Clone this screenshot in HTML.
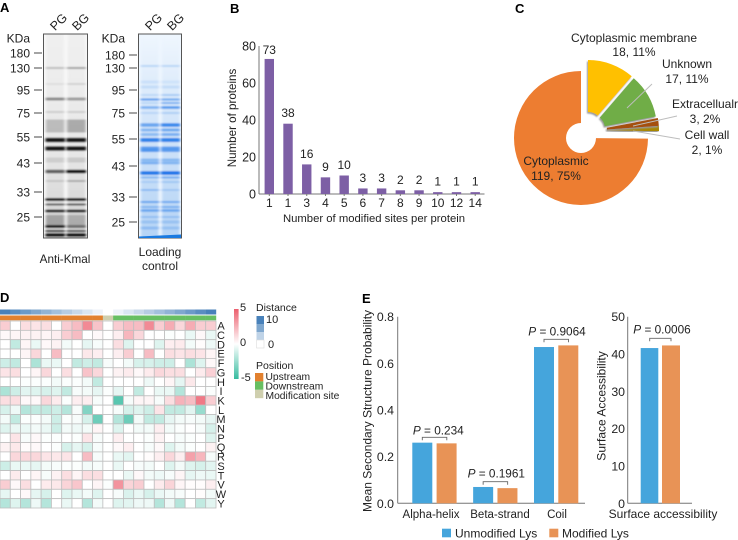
<!DOCTYPE html>
<html><head><meta charset="utf-8"><style>
html,body{margin:0;padding:0;background:#fff}
#fig{display:block;width:738px;height:540px;font-family:"Liberation Sans",sans-serif;fill:#222;filter:blur(.25px)}
text{font-size:12px}
</style></head><body>
<svg id="fig" xmlns="http://www.w3.org/2000/svg" width="738" height="540" viewBox="0 0 738 540">
<defs>
<filter id="blur" x="-10%" y="-10%" width="120%" height="120%"><feGaussianBlur stdDeviation="1.2 0.8"/></filter>
<filter id="shadow" x="-10%" y="-10%" width="120%" height="120%"><feDropShadow dx="-1" dy="1.5" stdDeviation="0.7" flood-color="#999"/></filter>
<linearGradient id="cbar" x1="0" y1="0" x2="0" y2="1"><stop offset="0" stop-color="#ec5f6e"/><stop offset="0.5" stop-color="#fff"/><stop offset="1" stop-color="#35bb9f"/></linearGradient>
<linearGradient id="laneBlue" x1="0" y1="0" x2="0" y2="1"><stop offset="0" stop-color="#f0f7fe"/><stop offset="0.35" stop-color="#d8e8fa"/><stop offset="1" stop-color="#b4d3f5"/></linearGradient>
<linearGradient id="laneGray" x1="0" y1="0" x2="0" y2="1"><stop offset="0" stop-color="#f0f0f0"/><stop offset="0.6" stop-color="#e6e6e6"/><stop offset="1" stop-color="#cfcfcf"/></linearGradient>
<clipPath id="clipL"><rect x="43.5" y="34" width="44" height="204"/></clipPath>
<clipPath id="clipR"><rect x="138.5" y="34" width="43" height="204"/></clipPath>
</defs>
<g id="root"></g>
</svg>
<script>
// Panel A: band y, height, PG strength, BG strength
const grayBands=[[68,2,.2,.32],[84,1.5,.08,.14],[99,3,.42,.34],[112,2,.12,.12],[126,13,.2,.28],[140,4.5,.95,.95],[148.5,4.5,.95,.95],[160,5,.1,.12],[171.5,3.5,.6,1],[181,2,.12,.25],[199.5,3,.9,.9],[204.5,2,.6,.65],[211,3,.85,.85],[220,10,.25,.2],[226.5,3,.9,.5],[231,2,.85,.7],[235,3.5,1,1]];
const blueBands=[[66,2,.2,.2],[82,3,.1,.08],[87,3,.12,.12],[95,2,.15,.25],[99.5,2.2,.6,.5],[103,2,.15,.45],[107.5,2.6,.45,.65],[113,2,.15,.2],[125,3.5,.55,.8],[130,3,.4,.5],[134.5,3,.35,.45],[140,4,.85,.85],[148,3,.6,.6],[150.5,3,.65,.6],[160,3,.35,.35],[163,2.5,.45,.4],[173,3.5,.95,1],[177.5,2,.35,.45],[182,2,.15,.2],[190,1.5,.4,.25],[202,2,.5,.45],[207,2,.35,.4],[210.5,2.5,.5,.5],[217,2,.25,.25],[222,3,.2,.2],[228,3,.25,.2]];
// Panel B
const siteCategories=['1','1','3','4','5','6','7','8','9','10','12','14'];
const siteCounts=[73,38,16,9,10,3,3,2,2,1,1,1];
const siteTicks=[0,20,40,60,80];
// Panel C
const locNames=['Cytoplasmic membrane','Unknown','Extracellualr','Cell wall','Cytoplasmic'];
const locCounts=[18,17,3,2,119];
const locLabels=['18, 11%','17, 11%','3, 2%','2, 1%','119, 75%'];
// Panel D
const residues=['A','C','D','E','F','G','H','I','K','L','M','N','P','Q','R','S','T','V','W','Y'];
const heatValues=[
[1.5,0,1,.8,1,0,1.5,2,3.5,1.8,0,1.5,2,2,3.5,1.5,2.5,1.2,2.5,1.5,1.5],
[.2,.3,.4,.4,.3,.5,1.5,2,0,.2,0,.5,2.2,1.2,0,0,-.1,0,-.5,.2,-.5],
[0,-1.5,.3,-.5,.2,.4,-.3,0,-.6,-.2,0,1,-.8,0,0,-.8,.5,.6,-.3,.1,-.4],
[0,0,.3,1.2,0,2,0,0,.7,.5,0,.5,1.5,0,2,0,1,.8,1,.8,.3],
[-1.2,-1.5,0,-2,-.5,-.5,0,-1.5,-1.2,-1.5,-.2,0,-.3,-1,-1,-1.2,-1.2,0,-2,-.8,.2],
[.8,1,0,.3,1.2,0,1,0,1.8,1.2,0,.4,.6,.2,.6,1.2,1,1,0,.6,1.4],
[0,0,-.1,-.1,-.1,-.3,-.1,-.1,-.3,-1.5,0,0,0,0,-.4,0,.3,-.6,.7,0,0],
[-2,-1.2,-.7,-.8,-1,-.8,-1.5,-.2,-.3,-.6,-.1,-.6,0,-1.5,0,-.5,-.5,-1.8,0,0,-.1],
[1,1,.2,.2,1.2,.6,-.1,.5,.5,-.2,0,-4,-.2,.3,.3,-.2,1,2.3,2,4,1.5],
[-1,-.4,-1.8,-1.5,-1.5,-1.2,-1.8,-.2,-3,0,0,-.2,-1,-.8,-1.2,.8,-1.5,-1.5,-.7,-2.5,0],
[-.3,-1.5,-.1,-.1,-.3,-1.2,-.1,-.2,-1,-3.5,0,-1.8,-3.5,-.3,-1.5,-1.5,-.6,-.3,-.2,-.3,-.6],
[-.8,-.5,-.5,-.3,-.5,-1.2,-.3,-.4,-.3,.3,0,-.8,0,-.3,-.3,.5,-.3,-.1,0,-.2,-1],
[0,.8,-.2,.2,-.1,-.1,0,-.1,.8,-.2,0,.5,0,0,-.1,.4,0,-.2,-.1,0,-.8],
[.4,.7,.1,.2,0,-.1,-1,-.6,-1,-.2,0,.2,.5,0,-.2,.2,-.8,-.3,-.1,0,.4],
[0,1.2,1.2,1.2,.8,.7,.8,0,2,-.2,0,-.5,-.7,0,.1,.5,1.2,.5,2.8,2.2,-.2],
[-1.2,-.5,-.5,-.6,-.3,-.2,-.1,-.1,-.3,-.2,0,-.5,0,-.2,-.3,0,-.8,-.3,-.8,-1,-.7],
[0,.6,0,.3,-.2,.4,1,.3,1,1,0,0,-.5,.2,-.3,-.4,-.2,.3,-.6,-.4,-.5],
[1.5,.2,1,0,.6,.7,1.3,1.7,0,.3,-.1,3.2,1.3,1.5,0,.6,1.3,.3,.1,.1,.5],
[-.6,0,.2,-.6,-1,0,-.8,-.5,-.3,-.8,0,-.2,-.9,-.5,-1,-.5,-.3,-.2,0,.1,-.3],
[-1.8,-.8,-1.8,-.4,-1.8,0,-.5,0,-1.8,-.3,0,-.8,-.7,-.4,-.4,-1.8,-.4,-1.8,0,-1.5,-.7]];
const distanceValues=[10,9,8,7,6,5,4,3,2,1,0,1,2,3,4,5,6,7,8,9,10];
// Panel E
const structureCategories=['Alpha-helix','Beta-strand','Coil'];
const unmodifiedValues=[.26,.07,.67];
const modifiedValues=[.257,.065,.677];
const structurePValues=['0.234','0.1961','0.9064'];
const structureTicks=[0,.2,.4,.6,.8];
const accessCategory='Surface accessibility';
const accessUnmodified=[41.6];
const accessModified=[42.3];
const accessPValues=['0.0006'];
const accessTicks=[0,10,20,30,40,50];

const NS='http://www.w3.org/2000/svg';
const root=document.getElementById('root');
function add(tag,attrs,parent){
  const e=document.createElementNS(NS,tag);
  for(const k in attrs)e.setAttribute(k,attrs[k]);
  (parent||root).appendChild(e);
  return e;
}
function txt(str,x,y,size,anchor,parent,extra){
  const e=add('text',Object.assign({x:x,y:y,'text-anchor':anchor||'start'},extra||{}),parent);
  e.style.fontSize=size+'px';
  e.textContent=str;
  return e;
}
function group(){return add('g',{});}

// Panel letters
[['A',0,12],['B',230,13],['C',515,13],['D',0,302],['E',362,303]].forEach(p=>{
  const t=txt(p[0],p[1],p[2],13,'start',root,{'font-weight':'bold',fill:'#000'});
  
  
});

// Panel A
function blot(name,x0,w,clip,bg,lane,bandRGB,bands,labels,labelRight,tickX){
  const g=group();
  
  
  add('rect',{x:x0,y:34,width:w,height:204,fill:bg},g);
  const inner=add('g',{'clip-path':'url(#'+clip+')'},g);
  const blurred=add('g',{filter:'url(#blur)'},inner);
  const laneW=(w-8)/2;
  [x0+2.5,x0+w/2+2].forEach(x=>add('rect',{x:x,y:30,width:laneW,height:212,fill:lane},blurred));
  bands.forEach(b=>{
    add('rect',{x:x0+2,y:b[0]-b[1]/2,width:laneW+1.5,height:b[1],fill:bandRGB,'fill-opacity':b[2]},blurred);
    add('rect',{x:x0+w/2+1,y:b[0]-b[1]/2,width:laneW+1.5,height:b[1],fill:bandRGB,'fill-opacity':b[3]},blurred);
  });
  add('rect',{x:x0,y:34,width:w,height:204,fill:'none',stroke:'#555','stroke-width':1},g);
  labels.forEach(l=>{
    txt(l[0],labelRight,l[1]+4.5,12,'end',g);
    add('line',{x1:tickX,x2:tickX+8,y1:l[1],y2:l[1],stroke:'#666','stroke-width':1.2},g);
  });
  txt('KDa',labelRight,42.5,12,'end',g);
  txt('PG',x0+14,29,12.5,'middle',g,{transform:'rotate(-45 '+(x0+11)+' 22)'});
  txt('BG',x0+36,29,12.5,'middle',g,{transform:'rotate(-45 '+(x0+33)+' 22)'});
  return g;
}
blot('western-blot-anti-kmal',43.5,44,'clipL','#f8f8f8','url(#laneGray)','#0a0a0a',grayBands,
 [['180',53],['130',68],['95',90],['75',113],['55',137],['43',163],['33',192],['25',217]],30,34);
const gb=blot('gel-loading-control',138.5,43,'clipR','#eef6fe','url(#laneBlue)','#1272e8',blueBands,
 [['180',55],['130',68],['95',90],['75',113],['55',139],['43',166],['33',197],['25',222]],125,129);
add('path',{d:'M139 236.5 L160 235.5 L181 234.5 L181 238 L139 238 Z',fill:'#1a7ae0'},gb);
let t=txt('Anti-Kmal',65,263,11.7,'middle');


t=txt('Loading',160,256,12,'middle');


t=txt('control',160,270,12,'middle');



// Panel B
(function(){
  const g=group();
  
  
  const y=v=>194-v*1.85;
  const x=i=>269.3+i*18.72;
  add('line',{x1:259,x2:259,y1:46,y2:194,stroke:'#777'},g);
  add('line',{x1:259,x2:484.5,y1:194,y2:194,stroke:'#777'},g);
  siteTicks.forEach(v=>{
    const l=txt(String(v),256,y(v)+4.5,12.5,'end',g);
    
    
  });
  siteCounts.forEach((v,i)=>{
    const r=add('rect',{x:x(i)-4.7,y:y(v),width:9.4,height:194-y(v),fill:'#7d5fa5'},g);
    
    
    add('line',{x1:x(i),x2:x(i),y1:194,y2:196,stroke:'#777'},g);
    txt(siteCategories[i],x(i),207,12,'middle',g);
    const lb=txt(String(v),x(i),y(v)-(i==0?5:6.5),12,'middle',g);
    
    
  });
  const xt=txt('Number of modified sites per protein',374,222,11.3,'middle',g);
  
  
  const yt=txt('Number of proteins',0,0,11.6,'middle',g,{transform:'translate(236 118) rotate(-90)'});
  
  
})();

// Panel C
(function(){
  const g=group();
  
  
  const total=locCounts.reduce((a,b)=>a+b,0);
  const fills=['#ffc000','#70ad47','#a5500f','#a88700','#ed7d31'];
  const centers=[[588,127],[590,129],[592,130.5],[592,130.5],[581,138]];
  const R=67,r=15;
  let start=0;
  function pt(c,rad,a){return [c[0]+rad*Math.sin(a),c[1]-rad*Math.cos(a)];}
  const slices=locCounts.map((v,i)=>{const s={i:i,a0:start,a1:start+v/total*2*Math.PI};start=s.a1;return s;});
  slices.slice().reverse().forEach(s=>{
    const c=centers[s.i];
    const a=pt(c,R,s.a0),b=pt(c,R,s.a1),d=pt(c,r,s.a1),e=pt(c,r,s.a0);
    const big=(s.a1-s.a0)>Math.PI?1:0;
    const p=add('path',{d:`M${a} A${R} ${R} 0 ${big} 1 ${b} L${d} A${r} ${r} 0 ${big} 0 ${e} Z`,fill:fills[s.i],filter:s.i<4?'url(#shadow)':'none'},g);
    
    
  });
  [[627,108,652,84],[633,126,677,116],[633,131,680,139]].forEach(l=>{
    add('line',{x1:l[0],y1:l[1],x2:l[2],y2:l[3],stroke:'#bdbdbd','stroke-width':1},g);
  });
  const pos=[[634,42,56],[687,68,83],[705,108,123],[707,139,154],[556,165,180]];
  locNames.forEach((n,i)=>{
    const a=txt(n,pos[i][0],pos[i][1],12,'middle',g);
    
    
    const b=txt(locLabels[i],pos[i][0],pos[i][2],12,'middle',g);
    
    
  });
})();

// Panel D
(function(){
  const g=group();
  
  
  const cw=216/21,ch=187/20,x0=0,y0=321;
  const mix=(c,a)=>`rgb(${c.map(v=>Math.round(255+(v-255)*a)).join(',')})`;
  const color=v=>v>=0?mix([236,88,104],Math.min(1,v/5)):mix([48,184,156],Math.min(1,-v/5));
  const blue=v=>mix([62,122,182],v/10*.95);
  distanceValues.forEach((v,i)=>{
    const r=add('rect',{x:x0+i*cw,y:309.5,width:cw+.2,height:5,fill:blue(v)},g);
    
    
    const p=add('rect',{x:x0+i*cw,y:315.5,width:cw+.2,height:4.8,fill:i<10?'#e2812f':i==10?'#cfcfae':'#67bf62'},g);
    
    
  });
  heatValues.forEach((row,ri)=>{
    row.forEach((v,ci)=>{
      const r=add('rect',{x:x0+ci*cw,y:y0+ri*ch,width:cw,height:ch,fill:color(v),stroke:'#bfbfbf','stroke-width':.8},g);
      
      
    });
    const l=txt(residues[ri],221,y0+ri*ch+ch/2+4,11,'middle',g);
    
    
  });
  const c=add('rect',{x:234,y:309,width:4.6,height:70,fill:'url(#cbar)'},g);
  
  
  [['5',240,311],['0',240,346],['-5',241,381]].forEach(a=>txt(a[0],a[1],a[2],11,'start',g));
  txt('Distance',256,311,10.5,'start',g);
  [10,7,3.5,0].forEach((v,i)=>add('rect',{x:256.5,y:316+i*8,width:7.5,height:8,fill:blue(v),stroke:v==0?'#ddd':'none','stroke-width':.6},g));
  txt('10',266,323,11,'start',g);
  txt('0',268,348,11,'start',g);
  txt('Position',256,369,10.5,'start',g);
  ['#e2812f','#67bf62','#cfcfae'].forEach((f,i)=>add('rect',{x:255,y:373+i*8.4,width:8.3,height:8.4,fill:f},g));
  ['Upstream','Downstream','Modification site'].forEach((s,i)=>{
    const e=txt(s,265.5,380+i*9.5,10.3,'start',g);
    
    
  });
})();

// Panel E
function bracket(g,x1,x2,y){
  add('path',{d:`M${x1} ${y+3} V${y} H${x2} V${y+3}`,fill:'none',stroke:'#666','stroke-width':.9},g);
}
function pLabel(g,value,cx,y){
  const e=txt('',cx,y,11.8,'middle',g);
  const a=add('tspan',{'font-style':'italic'},e);
  a.textContent='P';
  const b=add('tspan',{},e);
  b.textContent=' = '+value;
  
  
}
const BLUE='#45a5dc',ORANGE='#e89356';
(function(){
  const g=group();
  
  
  const y=v=>503.3-v*(186.6/.8);
  add('line',{x1:397.7,x2:397.7,y1:316.7,y2:503.3,stroke:'#777'},g);
  add('line',{x1:397.7,x2:585,y1:503.3,y2:503.3,stroke:'#777'},g);
  structureTicks.forEach(v=>{
    const l=txt(v.toFixed(1),394,y(v)+4.5,12.3,'end',g);
    
    
  });
  const bracketY=[437.3,481.7,339.3],pY=[434.7,477.7,335.7];
  const labelX=[431,500,557],pX=[438.3,496.3,557];
  structureCategories.forEach((c,i)=>{
    const x=412.3+i*60.85;
    const a=add('rect',{x:x,y:y(unmodifiedValues[i]),width:20,height:503.3-y(unmodifiedValues[i]),fill:BLUE},g);
    
    
    const b=add('rect',{x:x+24.3,y:y(modifiedValues[i]),width:20,height:503.3-y(modifiedValues[i]),fill:ORANGE},g);
    
    
    txt(c,labelX[i],518,11.5,'middle',g);
    bracket(g,x+10,x+34.5,bracketY[i]);
    pLabel(g,structurePValues[i],pX[i],pY[i]);
  });
  const yt=txt('Mean Secondary Structure Probability',0,0,12,'middle',g,{transform:'translate(371.5 411) rotate(-90)'});
  
  
})();
(function(){
  const g=group();
  
  
  const y=v=>503.3-v*(186.6/50);
  add('line',{x1:627.7,x2:627.7,y1:316.7,y2:503.3,stroke:'#777'},g);
  add('line',{x1:627.7,x2:692,y1:503.3,y2:503.3,stroke:'#777'},g);
  accessTicks.forEach(v=>{
    const l=txt(String(v),625,y(v)+4.5,12.3,'end',g);
    
    
  });
  const a=add('rect',{x:640.7,y:y(accessUnmodified[0]),width:17.6,height:503.3-y(accessUnmodified[0]),fill:BLUE},g);
  
  
  const b=add('rect',{x:662,y:y(accessModified[0]),width:18,height:503.3-y(accessModified[0]),fill:ORANGE},g);
  
  
  bracket(g,649.7,671,338.3);
  pLabel(g,accessPValues[0],662,333.3);
  txt(accessCategory,663,518,12,'middle',g);
  const yt=txt('Surface Accessibility',0,0,12,'middle',g,{transform:'translate(605.5 406) rotate(-90)'});
  
  
  const lg=group();
  
  
  add('rect',{x:442,y:528.7,width:9,height:8.6,fill:BLUE},lg);
  txt('Unmodified Lys',455,537.3,12,'start',lg);
  add('rect',{x:549.3,y:528.7,width:9,height:8.6,fill:ORANGE},lg);
  txt('Modified Lys',562,537.3,12,'start',lg);
})();
</script>
</body></html>
